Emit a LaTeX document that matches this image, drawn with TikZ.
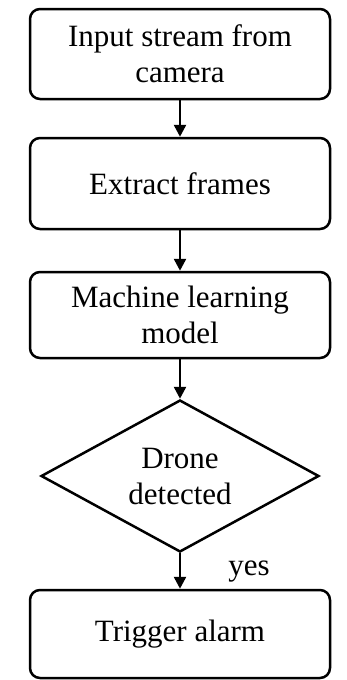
\documentclass[tikz,border=0pt]{standalone}
\usepackage{fontspec}
\setmainfont{Liberation Serif}
\usetikzlibrary{arrows.meta,shapes.geometric}
\begin{document}
\begin{tikzpicture}[x=1pt,y=-1pt,
  txt/.style={font=\fontsize{31}{36}\selectfont, align=center},
  box/.style={txt, draw, line width=2.5pt, rounded corners=10pt, minimum width=300pt, inner sep=0pt},
  dec/.style={txt, draw, line width=2.5pt, diamond, minimum width=278pt, minimum height=152pt, inner sep=0pt, aspect=1.83},
  arr/.style={line width=2.5pt, -{Triangle[length=12pt,width=12pt]}}]
\useasboundingbox (0,0) rectangle (347,680);
\node[box, minimum height=90pt] (b1) at (180,54) {Input stream from\\camera};
\node[box, minimum height=91pt] (b2) at (180,183.5) {Extract frames};
\node[box, minimum height=86pt] (b3) at (180,315) {Machine learning\\model};
\node[dec] (d) at (180,476) {Drone\\detected};
\node[box, minimum height=88pt] (b5) at (180,634) {Trigger alarm};
\node[txt, anchor=base] (yes) at (249,575) {yes};
\draw[arr] (b1.south) -- (b2.north);
\draw[arr] (b2.south) -- (b3.north);
\draw[arr] (b3.south) -- (d.north);
\draw[arr] (d.south) -- (b5.north);
\end{tikzpicture}
\end{document}
